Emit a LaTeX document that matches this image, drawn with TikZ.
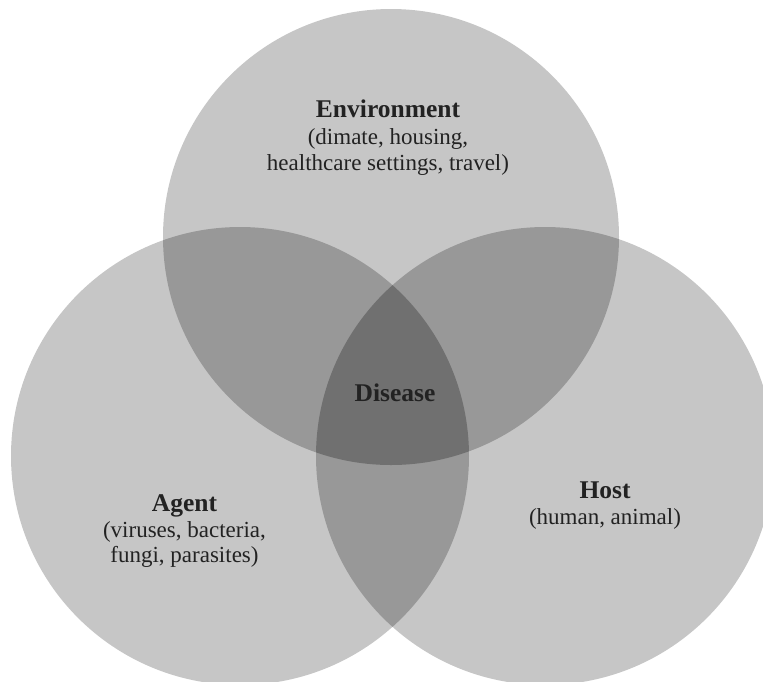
\documentclass[tikz,border=0pt]{standalone}
\usepackage{fontspec}
\setmainfont{Liberation Serif}
\definecolor{onefill}{HTML}{C6C6C6}
\definecolor{twofill}{HTML}{989898}
\definecolor{threefill}{HTML}{707070}
\definecolor{txt}{HTML}{222222}
\begin{document}
\begin{tikzpicture}[x=1pt,y=-1pt,
  lbl/.style={align=center, text=txt, inner sep=0pt, font=\fontsize{23}{25}\selectfont},
  ]
\useasboundingbox (0,0) rectangle (763,681);
% circle centres
\coordinate (E) at (391,237);
\coordinate (A) at (240,456);
\coordinate (H) at (545,456);
\def\rE{228pt}
\def\rA{229pt}
\def\rH{229pt}
\begin{scope}
  \clip (0,0) rectangle (763,681);
  % single circles
  \fill[onefill] (E) circle[radius=\rE];
  \fill[onefill] (A) circle[radius=\rA];
  \fill[onefill] (H) circle[radius=\rH];
  % pairwise overlaps
  \begin{scope}
    \clip (E) circle[radius=\rE];
    \fill[twofill] (A) circle[radius=\rA];
    \fill[twofill] (H) circle[radius=\rH];
  \end{scope}
  \begin{scope}
    \clip (A) circle[radius=\rA];
    \fill[twofill] (H) circle[radius=\rH];
  \end{scope}
  % centre where all three meet
  \begin{scope}
    \clip (E) circle[radius=\rE];
    \clip (A) circle[radius=\rA];
    \fill[threefill] (H) circle[radius=\rH];
  \end{scope}
\end{scope}
% labels
\node[lbl] (env) at (388,138) {{\fontsize{25.5}{27}\selectfont\bfseries Environment}\\[2pt](dimate, housing,\\[1pt]healthcare settings, travel)};
\node[lbl] (agent) at (184.5,531.5) {{\fontsize{25.5}{27}\selectfont\bfseries Agent}\\[1pt](viruses, bacteria,\\fungi, parasites)};
\node[lbl] (host) at (605,506) {{\fontsize{25.5}{27}\selectfont\bfseries Host}\\[1pt](human, animal)};
\node[lbl, font=\fontsize{25.5}{27}\selectfont\bfseries] (dis) at (395,393) {Disease};
\end{tikzpicture}
\end{document}
